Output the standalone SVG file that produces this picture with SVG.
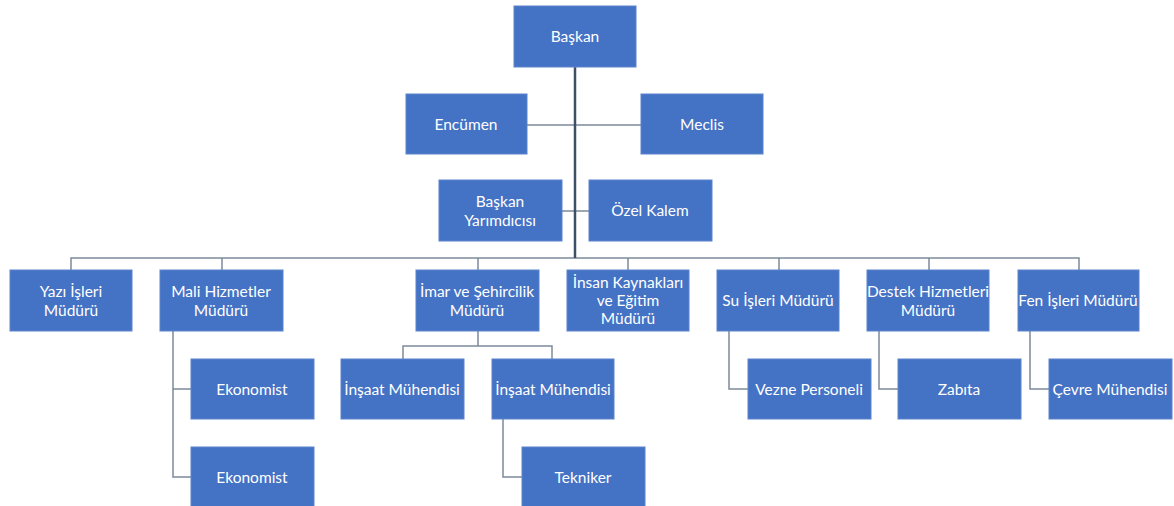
<svg xmlns="http://www.w3.org/2000/svg" width="1174" height="506" viewBox="0 0 1174 506">
<style>
.box{fill:#4472C4;stroke:#5A84CC;stroke-width:1}
.t{font-family:Lato,"Open Sans","Liberation Sans",sans-serif;font-size:15.5px;fill:#FFFFFF;text-anchor:middle;dominant-baseline:central}
.ln{fill:none;stroke:#7D8A9A;stroke-width:1.5}
.trunk{fill:none;stroke:#3E5068;stroke-width:2.5}
</style>
<rect width="1174" height="506" fill="#FFFFFF"/>
<g id="connectors">
<path class="ln" d="M527 125H641M562 211H589"/>
<path class="ln" d="M71 270V258H1079V270M222 258V270M478 258V270M628 258V270M779 258V270M929 258V270"/>
<path class="ln" d="M173 331V477H191M173 389H191"/>
<path class="ln" d="M478 331V346M403 359V346H552V359"/>
<path class="ln" d="M503 419V477H522"/>
<path class="ln" d="M729 331V389H748"/>
<path class="ln" d="M879 331V389H898"/>
<path class="ln" d="M1030 331V389H1049"/>
<path class="trunk" d="M575 67V258"/>
</g>
<g id="baskan"><rect class="box" x="514" y="6" width="122" height="61"/><text class="t" x="575" y="36">Başkan</text></g>
<g id="encumen"><rect class="box" x="406" y="94" width="121" height="60"/><text class="t" x="466" y="124">Encümen</text></g>
<g id="meclis"><rect class="box" x="641" y="94" width="122" height="60"/><text class="t" x="702" y="124">Meclis</text></g>
<g id="baskan-yardimcisi"><rect class="box" x="439" y="180" width="123" height="61"/><text class="t" x="500" y="201">Başkan</text><text class="t" x="500" y="220">Yarımdıcısı</text></g>
<g id="ozel-kalem"><rect class="box" x="589" y="180" width="123" height="61"/><text class="t" x="650" y="210">Özel Kalem</text></g>
<g id="yazi-isleri"><rect class="box" x="10" y="270" width="122" height="61"/><text class="t" x="71" y="291">Yazı İşleri</text><text class="t" x="71" y="310">Müdürü</text></g>
<g id="mali-hizmetler"><rect class="box" x="160" y="270" width="123" height="61"/><text class="t" x="221" y="291">Mali Hizmetler</text><text class="t" x="221" y="310">Müdürü</text></g>
<g id="imar"><rect class="box" x="416" y="270" width="123" height="61"/><text class="t" x="477" y="291">İmar ve Şehircilik</text><text class="t" x="477" y="310">Müdürü</text></g>
<g id="insan-kaynaklari"><rect class="box" x="567" y="270" width="122" height="61"/><text class="t" x="628" y="282">İnsan Kaynakları</text><text class="t" x="628" y="300">ve Eğitim</text><text class="t" x="628" y="318">Müdürü</text></g>
<g id="su-isleri"><rect class="box" x="717" y="270" width="122" height="61"/><text class="t" x="778" y="300">Su İşleri Müdürü</text></g>
<g id="destek-hizmetleri"><rect class="box" x="867" y="270" width="122" height="61"/><text class="t" x="928" y="291">Destek Hizmetleri</text><text class="t" x="928" y="310">Müdürü</text></g>
<g id="fen-isleri"><rect class="box" x="1018" y="270" width="121" height="61"/><text class="t" x="1078" y="300">Fen İşleri Müdürü</text></g>
<g id="ekonomist-1"><rect class="box" x="191" y="359" width="123" height="60"/><text class="t" x="252" y="389">Ekonomist</text></g>
<g id="ekonomist-2"><rect class="box" x="191" y="447" width="123" height="60"/><text class="t" x="252" y="477">Ekonomist</text></g>
<g id="insaat-muhendisi-1"><rect class="box" x="341" y="359" width="123" height="60"/><text class="t" x="402" y="389">İnşaat Mühendisi</text></g>
<g id="insaat-muhendisi-2"><rect class="box" x="492" y="359" width="122" height="60"/><text class="t" x="553" y="389">İnşaat Mühendisi</text></g>
<g id="tekniker"><rect class="box" x="522" y="447" width="123" height="60"/><text class="t" x="583" y="477">Tekniker</text></g>
<g id="vezne-personeli"><rect class="box" x="748" y="359" width="123" height="60"/><text class="t" x="809" y="389">Vezne Personeli</text></g>
<g id="zabita"><rect class="box" x="898" y="359" width="123" height="60"/><text class="t" x="959" y="389">Zabıta</text></g>
<g id="cevre-muhendisi"><rect class="box" x="1049" y="359" width="123" height="60"/><text class="t" x="1110" y="389">Çevre Mühendisi</text></g>
</svg>
